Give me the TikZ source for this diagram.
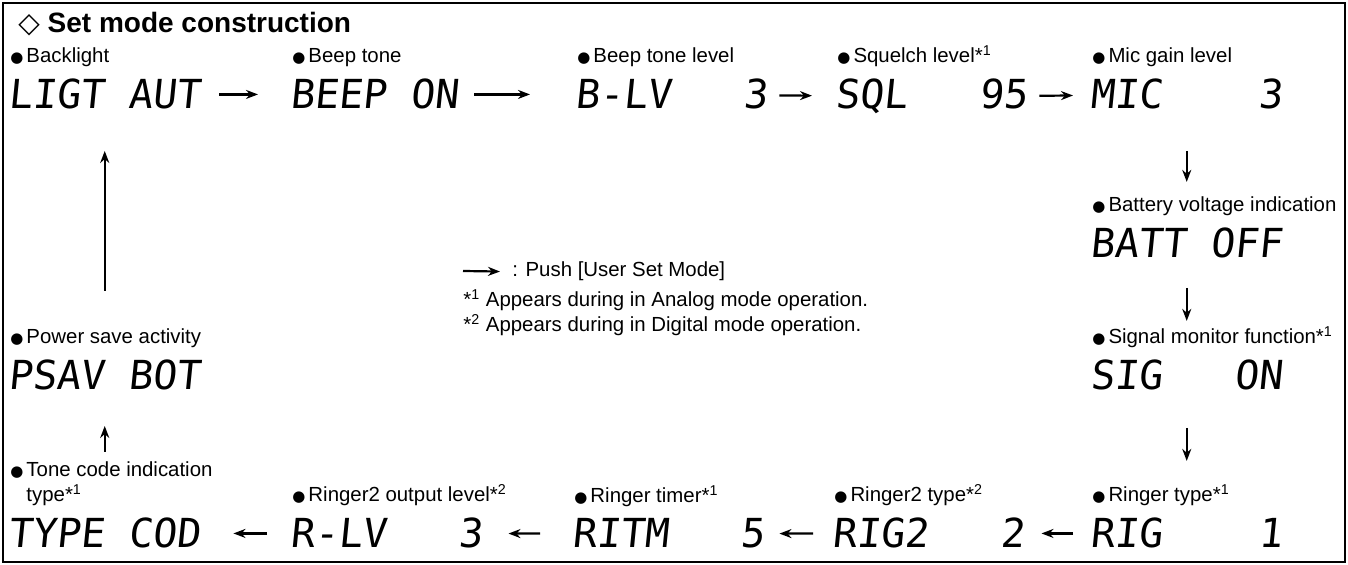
\documentclass[tikz,border=0pt]{standalone}
\usepackage{fontspec}
\setmainfont{Liberation Sans}
\newfontfamily\lcdfont{DejaVu Sans Mono}[FakeSlant=0.1]
\newfontfamily\symfont{DejaVu Sans}
\usetikzlibrary{positioning,arrows.meta}

\newcommand{\bul}{{\symfont\fontsize{7.5}{8}\selectfont ●}\hspace{1.5pt}}
\newcommand{\sone}{*\textsuperscript{1}}
\newcommand{\stwo}{*\textsuperscript{2}}

\begin{document}
\begin{tikzpicture}[x=0.5pt, y=-0.5pt,
    lcd/.style={anchor=base west, inner sep=0pt, font=\lcdfont\fontsize{20}{20}\selectfont},
    item/.style={anchor=base west, inner sep=0pt, font=\fontsize{10.2}{12.5}\selectfont},
    push/.style={-{Stealth[length=6pt,width=4.5pt]}, line width=1.1pt}
    ]
    \useasboundingbox (0,0) rectangle (1348,565);
    \draw[line width=0.75pt] (3,3) rectangle (1345,562);

    %Title
    \node[anchor=base west, inner sep=0pt, font=\bfseries\fontsize{14}{16}\selectfont]
        (title) at (18,33) {{\symfont ◇} Set mode construction};

    %Top row
    \node[lcd]  (light)     at (8,109)      {LIGT~AUT};
    \node[lcd]  (beep)      at (290,109)    {BEEP~ON~};
    \node[lcd]  (beeplv)    at (575,109)    {B-LV~~~3};
    \node[lcd]  (sql)       at (835,109)    {SQL~~~95};
    \node[lcd]  (mic)       at (1090,109)   {MIC~~~~3};

    \node[item] (light_lbl)  [above right=8pt and 1pt of light.north west, anchor=base west]  {\bul Backlight};
    \node[item] (beep_lbl)   [above right=8pt and 1pt of beep.north west, anchor=base west]   {\bul Beep tone};
    \node[item] (beeplv_lbl) [above right=8pt and 1pt of beeplv.north west, anchor=base west] {\bul Beep tone level};
    \node[item] (sql_lbl)    [above right=8pt and 1pt of sql.north west, anchor=base west]    {\bul Squelch level\sone};
    \node[item] (mic_lbl)    [above right=8pt and 1pt of mic.north west, anchor=base west]    {\bul Mic gain level};

    %Right column
    \node[lcd]  (batt)      at (1090,258)   {BATT~OFF};
    \node[lcd]  (sig)       at (1090,390)   {SIG~~~ON};

    \node[item] (batt_lbl)   [above right=8pt and 1pt of batt.north west, anchor=base west]   {\bul Battery voltage indication};
    \node[item] (sig_lbl)    [above right=8pt and 1pt of sig.north west, anchor=base west]    {\bul Signal monitor function\sone};

    %Bottom row
    \node[lcd]  (rig)       at (1090,548)   {RIG~~~~1};
    \node[lcd]  (rig2)      at (832,548)    {RIG2~~~2};
    \node[lcd]  (ritm)      at (572,548)    {RITM~~~5};
    \node[lcd]  (rlv)       at (290,548)    {R-LV~~~3};
    \node[lcd]  (type)      at (8,548)      {TYPE~COD};

    \node[item] (rig_lbl)    [above right=8pt and 1pt of rig.north west, anchor=base west]    {\bul Ringer type\sone};
    \node[item] (rig2_lbl)   [above right=8pt and 1pt of rig2.north west, anchor=base west]   {\bul Ringer2 type\stwo};
    \node[item] (ritm_lbl)   [above right=8pt and 1pt of ritm.north west, anchor=base west]   {\bul Ringer timer\sone};
    \node[item] (rlv_lbl)    [above right=8pt and 1pt of rlv.north west, anchor=base west]    {\bul Ringer2 output level\stwo};
    \node[item, align=left] (type_lbl) [above right=8pt and 1pt of type.north west, anchor=base west]
        {\bul Tone code indication\\\hphantom{\bul}type\sone};

    %Left column
    \node[lcd]  (psav)      at (8,390)      {PSAV~BOT};
    \node[item] (psav_lbl)   [above right=8pt and 1pt of psav.north west, anchor=base west]   {\bul Power save activity};

    %Key
    \coordinate (keytail) at (463,271);
    \node[item] (key)   at (512,277)    {: Push [User Set Mode]};
    \node[item] (note1) at (463,307)    {\sone\ Appears during in Analog mode operation.};
    \node[item] (note2) at (463,332)    {\stwo\ Appears during in Digital mode operation.};

    %Lines
    \draw[push, shorten <=9pt,  shorten >=16pt]   (light) -- (beep);
    \draw[push, shorten <=7.5pt, shorten >=22.5pt] (beep) -- (beeplv);
    \draw[push, shorten <=5.5pt, shorten >=11.5pt] (beeplv) -- (sql);
    \draw[push, shorten <=5.5pt, shorten >=8.5pt]  (sql) -- (mic);

    \draw[push, shorten <=20.5pt, shorten >=23pt]   (mic) -- (batt);
    \draw[push, shorten <=14.5pt, shorten >=19.5pt] (batt) -- (sig);
    \draw[push, shorten <=18.5pt, shorten >=28.5pt] (sig) -- (rig);

    \draw[push, shorten <=8.5pt,  shorten >=8pt]    (rig) -- (rig2);
    \draw[push, shorten <=9.5pt,  shorten >=7pt]    (rig2) -- (ritm);
    \draw[push, shorten <=16pt,   shorten >=12.5pt] (ritm) -- (rlv);
    \draw[push, shorten <=11.5pt, shorten >=16pt]   (rlv) -- (type);

    \draw[push, shorten <=33pt,   shorten >=17.5pt] (type) -- (psav);
    \draw[push, shorten <=34.5pt, shorten >=20.5pt] (psav) -- (light);

    \draw[push, shorten >=6pt] (keytail) -- (key.west);
\end{tikzpicture}
\end{document}
